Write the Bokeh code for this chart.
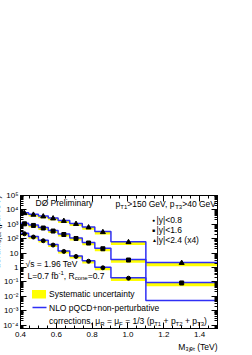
from bokeh.plotting import figure
from bokeh.models import (Range1d, FixedTicker, LogAxis, LinearAxis, Label, Title,
                          BoxAnnotation, CustomJSTickFormatter, PrintfTickFormatter)
from bokeh.embed import file_html
from bokeh.resources import INLINE

# ---------------- data ----------------
bin_edges = [0.4, 0.445, 0.5, 0.555, 0.61, 0.675, 0.745, 0.815, 0.905, 1.1, 1.5]
mass_points = [0.422, 0.472, 0.527, 0.582, 0.642, 0.71, 0.78, 0.86, 1.003, 1.3]

data_y24 = [5900, 4570, 3480, 2540, 1690, 1050, 600, 283, 57, 2.05]   # |y|<2.4 (x4)
data_y16 = [1080, 830, 550, 340, 195, 103, 50, 20, 3.3, 0.084]         # |y|<1.6
data_y08 = [220, 130, 72, 36, 13, 5.8, 2.7, 0.95, 0.18]                # |y|<0.8

nlo_y24 = [6400, 5000, 3800, 2750, 1850, 1150, 660, 310, 62, 2.25]
nlo_y16 = [1180, 900, 600, 370, 212, 112, 55, 22, 3.6, 0.092]
nlo_y08 = [240, 142, 79, 39, 14.2, 6.3, 2.95, 1.04, 0.196, 0.0051]

syst_up = [0.09, 0.09, 0.10, 0.10, 0.10, 0.11, 0.11, 0.12, 0.13, 0.15]
syst_dn = [0.25, 0.25, 0.26, 0.26, 0.27, 0.28, 0.30, 0.32, 0.35, 0.40]

x_ticks = [0.4, 0.6, 0.8, 1.0, 1.2, 1.4]
y_decades = [10.0 ** e for e in range(-4, 6)]

# ---------------- geometry ----------------
FONT = "Liberation Sans"
SHIFT = 20                                  # canvas px hidden left of the window
W, H = 260, 352
FL, FR, FT, FB = 20, 217, 195, 328          # frame edges in window px
X0, X1 = 0.4, 1.5
LOG_LO, LOG_HI = -4.24, 5.0


def X(px):
    return X0 + (px - FL) * (X1 - X0) / (FR - FL)


def Y(py):
    return 10 ** (LOG_HI - (py - FT) * (LOG_HI - LOG_LO) / (FB - FT))


p = figure(width=W, height=H, y_axis_type="log",
           x_range=Range1d(X0, X1), y_range=Range1d(10 ** LOG_LO, 10 ** LOG_HI),
           output_backend="svg", toolbar_location=None,
           min_border_left=FL + SHIFT, min_border_right=W - SHIFT - FR,
           min_border_top=FT, min_border_bottom=H - FB)
p.styles = {"margin-left": f"-{SHIFT}px"}
p.grid.visible = False
p.outline_line_color = "black"
p.outline_line_width = 1
p.background_fill_color = "white"
p.border_fill_color = "white"

fmt_log = CustomJSTickFormatter(code="""
const e = Math.round(Math.log10(tick));
if (e == 0) return "1";
if (e == 1) return "10";
const s = "⁰¹²³⁴⁵⁶⁷⁸⁹";
let out = "10";
for (const c of String(e)) out += (c == "-") ? "⁻" : s[parseInt(c)];
return out;
""")
blank = CustomJSTickFormatter(code="return ''")

y_minor = [k * 10.0 ** e for e in range(-5, 6) for k in range(2, 10)]
x_minor = [round(0.4 + 0.05 * i, 3) for i in range(0, 23)]


def style_axis(ax):
    ax.major_tick_in = 6
    ax.major_tick_out = 0
    ax.minor_tick_in = 3
    ax.minor_tick_out = 0
    ax.axis_line_color = "black"
    ax.major_tick_line_color = "black"
    ax.minor_tick_line_color = "black"
    ax.major_label_text_font = FONT
    ax.major_label_text_font_size = "8px"
    ax.major_label_text_color = "black"


yl = p.yaxis[0]
yl.ticker = FixedTicker(ticks=y_decades, minor_ticks=y_minor)
yl.formatter = fmt_log
yl.major_label_standoff = 2
style_axis(yl)

xb = p.xaxis[0]
xb.ticker = FixedTicker(ticks=x_ticks, minor_ticks=x_minor)
xb.formatter = PrintfTickFormatter(format="%.1f")
xb.major_label_standoff = 3
style_axis(xb)

yr = LogAxis(ticker=FixedTicker(ticks=y_decades, minor_ticks=y_minor), formatter=blank)
style_axis(yr)
p.add_layout(yr, "right")
xt = LinearAxis(ticker=FixedTicker(ticks=x_ticks, minor_ticks=x_minor), formatter=blank)
style_axis(xt)
p.add_layout(xt, "above")

# axis titles (ROOT style: aligned at the axis end)
p.add_layout(Title(text="M₃ⱼₑₜ (TeV)", align="right", text_font=FONT,
                   text_font_size="8.5px", text_font_style="normal",
                   text_color="black", standoff=0), "below")
p.add_layout(Title(text="dσ/dM₃ⱼₑₜ (pb/TeV)", align="right", text_font=FONT,
                   text_font_size="9px", text_font_style="normal",
                   text_color="black", standoff=-3), "left")

# ---------------- marks ----------------
YEL = "#ffff00"
BLUE = "#2f2ff5"
for vals in (data_y24, data_y16, data_y08):
    n = len(vals)
    p.quad(left=bin_edges[:n], right=bin_edges[1:n + 1],
           bottom=[v * (1 - d) for v, d in zip(vals, syst_dn)],
           top=[v * (1 + u) for v, u in zip(vals, syst_up)],
           fill_color=YEL, line_color=None)

for nlo in (nlo_y24, nlo_y16, nlo_y08):
    p.step(x=bin_edges, y=nlo + [nlo[-1]], mode="after", line_color=BLUE, line_width=1.5)

p.scatter(mass_points, data_y24, marker="triangle", size=5, color="black")
p.scatter(mass_points, data_y16, marker="square", size=4, color="black")
p.scatter(mass_points[:len(data_y08)], data_y08, marker="circle", size=4, color="black")

# ---------------- texts ----------------
AW = {' ': 278, '(': 333, ')': 333, '+': 584, ',': 278, '-': 333, '.': 278, '/': 278,
      '<': 584, '=': 584, '>': 584, '|': 260, 'Ø': 778, 'μ': 576, '√': 549,
      'A': 667, 'C': 722, 'D': 722, 'F': 611, 'G': 778, 'L': 556, 'M': 833, 'N': 722,
      'O': 778, 'P': 667, 'Q': 778, 'R': 722, 'S': 667, 'T': 611, 'V': 667,
      'a': 556, 'b': 556, 'c': 500, 'e': 556, 'f': 278, 'i': 222, 'j': 222, 'l': 222,
      'm': 833, 'n': 556, 'o': 556, 'p': 556, 'r': 333, 's': 500, 't': 278, 'u': 556,
      'v': 500, 'x': 500, 'y': 500}


def tw(s, size):
    return sum(AW.get(c, 556) for c in s) * size / 1000.0


def rich(px, py, parts, size=8.5, small=6.0):
    x = px
    for text, kind in parts:
        fs = size if kind == "n" else small
        dy = 0 if kind == "n" else (2.5 if kind == "sub" else -3.0)
        stripped = text.lstrip(" ")
        x += tw(" ", fs) * (len(text) - len(stripped))
        p.add_layout(Label(x=X(x), y=Y(py + dy), text=stripped, text_font=FONT,
                           text_font_size=f"{fs}px", text_baseline="middle",
                           text_align="left", text_color="black"))
        x += tw(stripped, fs)


rich(35, 202.5, [("DØ Preliminary", "n")])
rich(115, 203.5, [("p", "n"), ("T1", "sub"), (">150 GeV, p", "n"), ("T3", "sub"), (">40 GeV", "n")])

rich(151.5, 219.3, [("●", "n")], size=5)
rich(151.5, 229.3, [("■", "n")], size=5)
rich(151.5, 239.3, [("▲", "n")], size=5)
rich(156, 219.3, [("|y|<0.8", "n")])
rich(156, 229.3, [("|y|<1.6", "n")])
rich(156, 239.3, [("|y|<2.4 (x4)", "n")])

rich(25, 263, [("√s = 1.96 TeV", "n")])
rich(27, 275, [("L=0.7 fb", "n"), ("-1", "sup"), (", R", "n"), ("cone", "sub"), ("=0.7", "n")])

p.add_layout(BoxAnnotation(left=X(31.5), right=X(45.5), bottom=Y(298), top=Y(289.5),
                           fill_color=YEL, fill_alpha=1, line_color=None))
p.add_layout(BoxAnnotation(left=X(32), right=X(46), bottom=Y(307.7), top=Y(306.3),
                           fill_color=BLUE, fill_alpha=1, line_color=None))
rich(48.5, 293.5, [("Systematic uncertainty", "n")])
rich(48.5, 307, [("NLO pQCD+non-perturbative", "n")])
rich(48.5, 320.5, [("corrections, μ", "n"), ("R", "sub"), (" = μ", "n"), ("F", "sub"),
                   (" = 1/3 (p", "n"), ("T1", "sub"), (" + p", "n"), ("T2", "sub"),
                   (" + p", "n"), ("T3", "sub"), (")", "n")])

open("out.html", "w").write(file_html(p, INLINE))
